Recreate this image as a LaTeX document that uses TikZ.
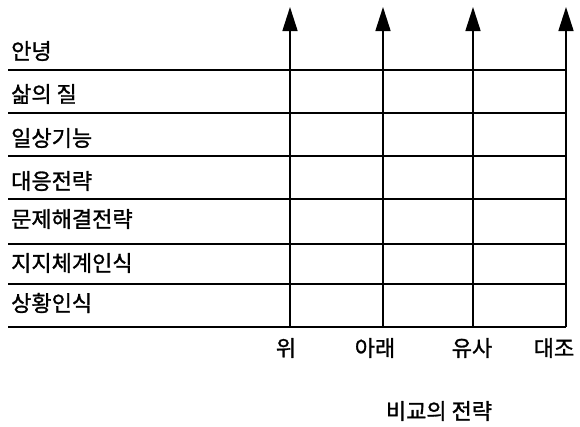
\documentclass[tikz,border=0pt]{standalone}
\usepackage{fontspec}
\setmainfont{Noto Sans CJK KR}[BoldFont=Noto Sans CJK KR,BoldFeatures={FakeBold=1.2}]
\usetikzlibrary{arrows.meta}
\begin{document}
\begin{tikzpicture}[x=1pt,y=-1pt,
  rowline/.style={line width=1.8pt},
  axis/.style={line width=1.6pt,-{Triangle[length=24pt,width=15pt]}},
  lbl/.style={font=\fontsize{22}{24}\selectfont\bfseries,inner sep=0pt},
  rowlbl/.style={lbl,anchor=west}]
\useasboundingbox (0,0) rectangle (580,426);
% row labels
\node[rowlbl] (r1) at (11,51) {안녕};
\node[rowlbl] (r2) at (11,94) {삶의 질};
\node[rowlbl] (r3) at (11,138) {일상기능};
\node[rowlbl] (r4) at (11,181) {대응전략};
\node[rowlbl] (r5) at (11,219) {문제해결전략};
\node[rowlbl] (r6) at (11,263) {지지체계인식};
\node[rowlbl] (r7) at (11,303) {상황인식};
% horizontal lines
\foreach \y/\n in {70/1,113/2,156/3,199/4,244/5,284/6,327/7}{
  \coordinate (hl\n) at (8,\y);
  \coordinate (hr\n) at (566,\y);
  \draw[rowline] (hl\n) -- (hr\n);
}
% vertical arrows
\foreach \x/\n in {290/a,383/b,473/c,566/d}{
  \coordinate (vb\n) at (\x,327);
  \coordinate (vt\n) at (\x,7);
  \draw[axis] (vb\n) -- (vt\n);
}
% bottom labels
\node[lbl] (la) at (286,348) {위};
\node[lbl] (lb) at (375,348) {아래};
\node[lbl] (lc) at (472,348) {유사};
\node[lbl] (ld) at (554,348) {대조};
\node[lbl] (title) at (439,411) {비교의 전략};
\end{tikzpicture}
\end{document}
